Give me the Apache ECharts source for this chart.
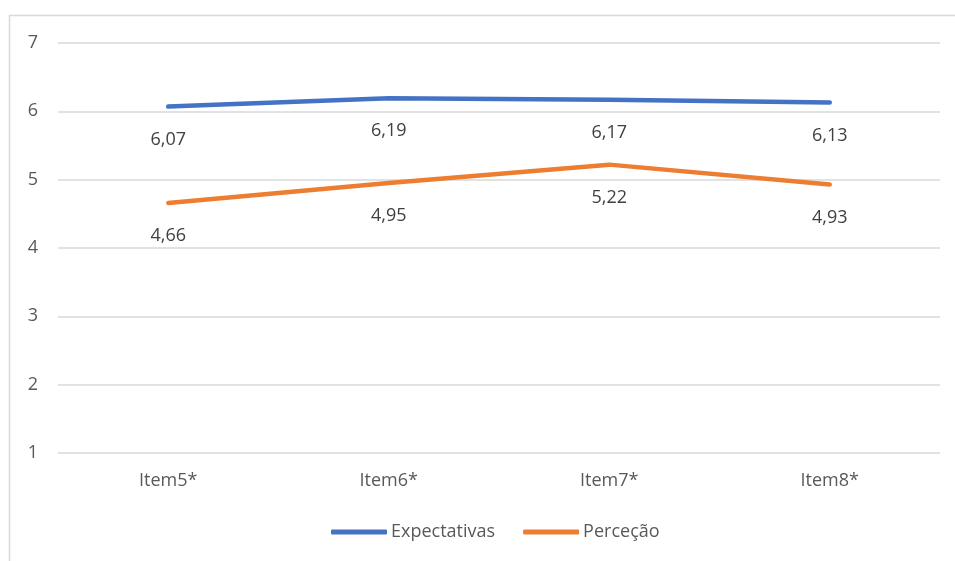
<!DOCTYPE html>
<html>
<head>
<meta charset="utf-8">
<script src="https://cdn.jsdelivr.net/npm/echarts@6/dist/echarts.min.js"></script>
<style>
  html, body { margin: 0; padding: 0; background: #fff; }
  #chart { width: 955px; height: 561px; }
</style>
</head>
<body>
<div id="chart"></div>
<script>
// dados
var categorias = ["Item5*", "Item6*", "Item7*", "Item8*"];
var expectativas = [6.07, 6.19, 6.17, 6.13];
var percecao = [4.66, 4.95, 5.22, 4.93];
var yTicks = [1, 2, 3, 4, 5, 6, 7];

var fonte = "Open Sans";
var corTexto = "#595959";
var cores = { "Expectativas": "#4472C4", "Perceção": "#ED7D31" };

function rotulo(p) {
  return p.value.toFixed(2).replace(".", ",");
}

function serie(nome, dados) {
  var cor = cores[nome];
  return {
    name: nome,
    type: "line",
    data: dados,
    symbol: "circle",
    symbolSize: 2,
    showSymbol: true,
    smooth: false,
    color: cor,
    lineStyle: { color: cor, width: 4.5, cap: "round" },
    itemStyle: { color: "rgba(0,0,0,0)", borderWidth: 0 },
    label: {
      show: true,
      position: "bottom",
      distance: 23,
      formatter: rotulo,
      color: "#404040",
      fontFamily: fonte,
      fontSize: 18
    }
  };
}

var chart = echarts.init(document.getElementById("chart"));
chart.setOption({
  animation: false,
  graphic: [{
    type: "rect",
    shape: { x: 9.5, y: 15.5, width: 960, height: 560 },
    style: { fill: "none", stroke: "#d9d9d9", lineWidth: 1.5 },
    silent: true
  }],
  grid: { left: 58, right: 15, top: 43, bottom: 108 },
  legend: {
    bottom: 15,
    left: 326,
    itemGap: 28,
    itemWidth: 56,
    itemHeight: 5,
    icon: "roundRect",
    textStyle: { color: corTexto, fontFamily: fonte, fontSize: 18, padding: [0, 0, 0, -1] },
    data: Object.keys(cores).map(function (n) {
      return { name: n, itemStyle: { color: cores[n] } };
    })
  },
  xAxis: {
    type: "category",
    data: categorias,
    boundaryGap: true,
    axisLine: { show: false },
    axisTick: { show: false },
    axisLabel: { color: corTexto, fontFamily: fonte, fontSize: 18, margin: 19 }
  },
  yAxis: {
    type: "value",
    min: yTicks[0],
    max: yTicks[yTicks.length - 1],
    interval: 1,
    axisLine: { show: false },
    axisTick: { show: false },
    axisLabel: { color: corTexto, fontFamily: fonte, fontSize: 18, margin: 20 },
    splitLine: { lineStyle: { color: "#d9d9d9", width: 1.5 } }
  },
  series: [
    serie("Expectativas", expectativas),
    serie("Perceção", percecao)
  ]
});
</script>
</body>
</html>
